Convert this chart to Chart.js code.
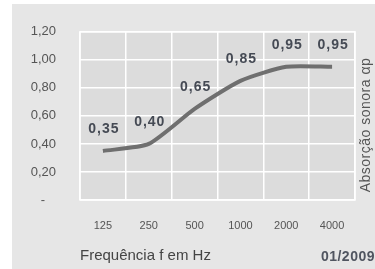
<!DOCTYPE html>
<html>
<head>
<meta charset="utf-8">
<script src="https://cdn.jsdelivr.net/npm/chart.js@4"></script>
<style>
html,body{margin:0;padding:0;background:#fff;}
#wrap{width:375px;height:269px;position:relative;}
</style>
</head>
<body>
<div id="wrap"><canvas id="c" width="375" height="269"></canvas></div>
<script>
const categories = ['125', '250', '500', '1000', '2000', '4000'];
const absorption = [0.35, 0.40, 0.65, 0.85, 0.95, 0.95];
const yTicks = [0, 0.2, 0.4, 0.6, 0.8, 1.0, 1.2];
const xTitle = 'Frequência f em Hz';
const yTitle = 'Absorção sonora αp';
const dateNote = '01/2009';

const fmt = v => v === 0 ? '-   ' : v.toFixed(2).replace('.', ',');
const FAM = '"Liberation Sans", Arial, sans-serif';

const bgPlugin = {
  id: 'bg',
  beforeDraw(chart) {
    const {ctx, chartArea: a} = chart;
    ctx.save();
    ctx.fillStyle = '#ffffff';
    ctx.fillRect(0, 0, chart.width, chart.height);
    ctx.fillStyle = '#e6e6e6';
    ctx.fillRect(12, 4, chart.width - 12, chart.height - 4);
    ctx.fillStyle = '#dcdcdc';
    ctx.fillRect(a.left, a.top, a.right - a.left, a.bottom - a.top);
    ctx.restore();
  },
  afterDraw(chart) {
    const {ctx, chartArea: a} = chart;
    ctx.save();
    ctx.strokeStyle = '#ffffff';
    ctx.lineWidth = 1.5;
    ctx.strokeRect(a.left, a.top, a.right - a.left, a.bottom - a.top);
    const meta = chart.getDatasetMeta(0);
    ctx.font = 'bold 14px ' + FAM;
    ctx.letterSpacing = '1px';
    ctx.fillStyle = '#454a54';
    ctx.textAlign = 'center';
    ctx.textBaseline = 'middle';
    meta.data.forEach((pt, i) => {
      ctx.fillText(fmt(absorption[i]), pt.x + 1, pt.y - 22);
    });
    ctx.font = '14px ' + FAM;
    ctx.letterSpacing = '0.5px';
    ctx.fillStyle = '#555555';
    ctx.translate(366, 125);
    ctx.rotate(-Math.PI / 2);
    ctx.textAlign = 'center';
    ctx.fillText(yTitle, 0, 0);
    ctx.restore();
    ctx.save();
    ctx.font = 'bold 14px ' + FAM;
    ctx.letterSpacing = '0.5px';
    ctx.fillStyle = '#505560';
    ctx.textAlign = 'right';
    ctx.textBaseline = 'middle';
    ctx.fillText(dateNote, 375, 257);
    ctx.restore();
  }
};

new Chart(document.getElementById('c'), {
  type: 'line',
  data: {
    labels: categories,
    datasets: [{
      data: absorption,
      borderColor: '#6f6f6f',
      borderWidth: 4,
      pointRadius: 0,
      tension: 0.2,
      fill: false
    }]
  },
  options: {
    responsive: false,
    animation: false,
    devicePixelRatio: 1,
    layout: {padding: {left: 0, right: 20, top: 18, bottom: 0}},
    plugins: {legend: {display: false}, tooltip: {enabled: false}},
    scales: {
      x: {
        offset: true,
        grid: {offset: true, color: '#ffffff', lineWidth: 1.5, drawTicks: false},
        border: {display: false},
        ticks: {
          padding: 19,
          color: '#555555',
          font: {family: FAM, size: 11}
        },
        title: {
          display: true,
          text: xTitle,
          align: 'start',
          color: '#444444',
          padding: {top: 0, bottom: 4},
          font: {family: FAM, size: 15}
        },
        afterFit(s) { s.height = 69; }
      },
      y: {
        min: 0,
        max: 1.2,
        afterBuildTicks(s) { s.ticks = yTicks.map(v => ({value: v})); },
        grid: {color: '#ffffff', lineWidth: 1.5, drawTicks: false},
        border: {display: false},
        ticks: {
          padding: 24,
          color: '#555555',
          font: {family: FAM, size: 13},
          callback: v => fmt(v)
        },
        afterFit(s) { s.width = 80; }
      }
    }
  },
  plugins: [bgPlugin]
});
</script>
</body>
</html>
